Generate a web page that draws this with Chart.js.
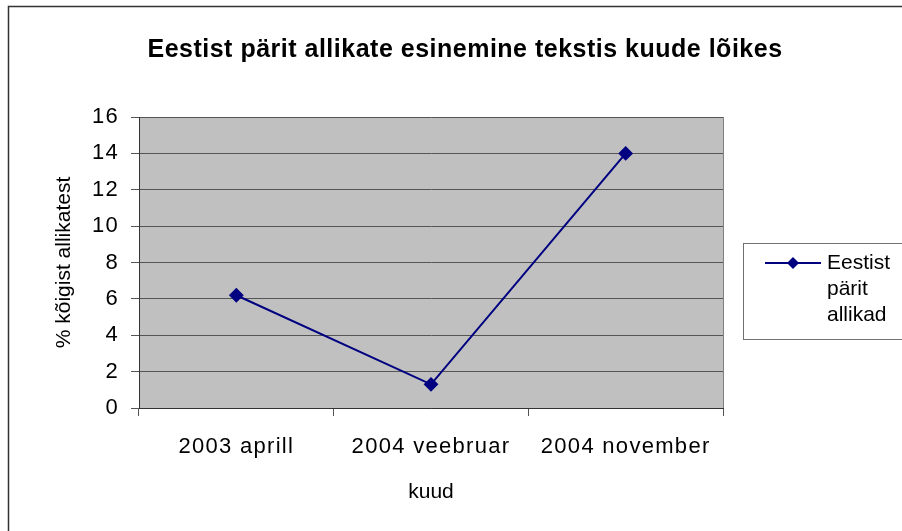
<!DOCTYPE html>
<html>
<head>
<meta charset="utf-8">
<script src="https://cdn.jsdelivr.net/npm/chart.js@4/dist/chart.umd.min.js"></script>
<style>
  body { margin: 0; background: #fff; }
  #wrap { width: 902px; height: 531px; position: relative; }
</style>
</head>
<body>
<div id="wrap"><canvas id="chart" width="902" height="531"></canvas></div>
<script>
// --- Data ---
const categories = ["2003 aprill", "2004 veebruar", "2004 november"];
const seriesValues = [6.2, 1.3, 14];
const seriesLabel = ["Eestist", "pärit", "allikad"]; // legend text, wrapped as in the picture
const chartTitle = "Eestist pärit allikate esinemine tekstis kuude lõikes";
const xTitle = "kuud";
const yTitle = "% kõigist allikatest";
const yMin = 0;
const yMax = 16;
const yStep = 2;

const FONT = "'Liberation Sans', Arial, sans-serif";
const NAVY = "#000080";

// Excel spaces the tick labels out a bit wider than the canvas does
const origDrawLabels = Chart.Scale.prototype.drawLabels;
Chart.Scale.prototype.drawLabels = function (area) {
  this.ctx.save();
  this.ctx.letterSpacing = "1.3px";
  origDrawLabels.call(this, area);
  this.ctx.restore();
};

// plot background, outer frame, title and the boxed legend (Excel style)
const excelDecor = {
  id: "excelDecor",
  beforeDraw(chart) {
    const { ctx, chartArea: a } = chart;
    ctx.save();
    ctx.fillStyle = "#C0C0C0";
    ctx.fillRect(a.left, a.top, a.right - a.left, a.bottom - a.top);
    ctx.strokeStyle = "#808080";
    ctx.lineWidth = 1;
    ctx.beginPath();
    ctx.moveTo(a.right + 0.5, a.top);
    ctx.lineTo(a.right + 0.5, a.bottom);
    ctx.stroke();
    ctx.restore();
  },
  afterDraw(chart) {
    const { ctx } = chart;
    ctx.save();
    // outer chart frame (runs off the right and bottom edges)
    ctx.strokeStyle = "#333";
    ctx.lineWidth = 1.5;
    ctx.strokeRect(8.5, 6.5, 1000, 1000);

    // title
    ctx.fillStyle = "#000";
    ctx.font = "bold 25px " + FONT;
    ctx.letterSpacing = "0.5px";
    ctx.textAlign = "center";
    ctx.textBaseline = "middle";
    ctx.fillText(chartTitle, 465, 50);
    ctx.letterSpacing = "0px";

    // legend box
    ctx.strokeStyle = "#707070";
    ctx.lineWidth = 1;
    ctx.strokeRect(743.5, 243.5, 200, 96);
    const ds = chart.data.datasets[0];
    ctx.strokeStyle = ds.borderColor;
    ctx.lineWidth = ds.borderWidth;
    ctx.beginPath();
    ctx.moveTo(765, 263);
    ctx.lineTo(821, 263);
    ctx.stroke();
    ctx.fillStyle = ds.pointBackgroundColor;
    Chart.helpers.drawPoint(ctx, {
      pointStyle: ds.pointStyle,
      radius: ds.pointRadius,
      rotation: 0,
      borderWidth: 0,
    }, 793, 263);
    ctx.fillStyle = "#000";
    ctx.font = "21px " + FONT;
    ctx.textAlign = "left";
    seriesLabel.forEach((line, i) => ctx.fillText(line, 827, 263 + i * 26));
    ctx.restore();
  },
};

new Chart(document.getElementById("chart"), {
  type: "line",
  data: {
    labels: categories,
    datasets: [
      {
        label: seriesLabel.join(" "),
        data: seriesValues,
        borderColor: NAVY,
        backgroundColor: NAVY,
        pointBackgroundColor: NAVY,
        pointBorderColor: NAVY,
        borderWidth: 2,
        pointStyle: "rectRot",
        pointRadius: 6,
        pointHoverRadius: 6,
        tension: 0,
      },
    ],
  },
  options: {
    responsive: false,
    animation: false,
    layout: { padding: { top: 117, right: 179, bottom: 0, left: 0 } },
    plugins: {
      legend: { display: false },
      title: { display: false },
      tooltip: { enabled: false },
    },
    scales: {
      x: {
        offset: true,
        grid: {
          offset: true,
          drawOnChartArea: false,
          drawTicks: true,
          tickLength: 8,
          color: "#555",
        },
        border: { display: true, color: "#333", width: 1 },
        ticks: { color: "#000", font: { family: FONT, size: 22 }, padding: 18, maxRotation: 0 },
        title: {
          display: true,
          text: xTitle,
          color: "#000",
          font: { family: FONT, size: 21 },
          padding: { top: 0, bottom: 26 },
        },
        afterFit(scale) { scale.height = 123; },
      },
      y: {
        min: yMin,
        max: yMax,
        grid: { color: "#555", tickLength: 8, drawTicks: true },
        border: { display: true, color: "#333", width: 1 },
        ticks: { stepSize: yStep, color: "#000", font: { family: FONT, size: 22 }, padding: 12 },
        title: {
          display: true,
          text: yTitle,
          color: "#000",
          font: { family: FONT, size: 21 },
          padding: { top: 52, bottom: 0 },
        },
        afterFit(scale) { scale.width = 139; },
      },
    },
  },
  plugins: [excelDecor],
});
</script>
</body>
</html>
